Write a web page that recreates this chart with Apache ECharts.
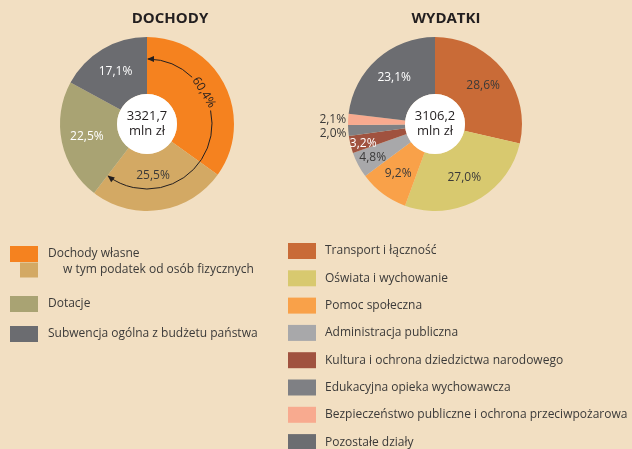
<!DOCTYPE html>
<html>
<head>
<meta charset="utf-8">
<title>Dochody i wydatki</title>
<script src="https://cdn.jsdelivr.net/npm/echarts@6/dist/echarts.min.js"></script>
<style>
  html, body { margin: 0; padding: 0; background: #f2dfc2; }
  #main { width: 632px; height: 449px; }
</style>
</head>
<body>
<div id="main"></div>
<script>
// DOCHODY - shares in %
const incomeNames = [
  'Dochody własne',
  'w tym podatek od osób fizycznych',
  'Dotacje',
  'Subwencja ogólna z budżetu państwa'
]
const incomeValues = [34.9, 25.5, 22.5, 17.1]
const incomeTotal = '3321,7'

// WYDATKI - shares in %
const expenseNames = [
  'Transport i łączność',
  'Oświata i wychowanie',
  'Pomoc społeczna',
  'Administracja publiczna',
  'Kultura i ochrona dziedzictwa narodowego',
  'Edukacyjna opieka wychowawcza',
  'Bezpieczeństwo publiczne i ochrona przeciwpożarowa',
  'Pozostałe działy'
]
const expenseValues = [28.6, 27.0, 9.2, 4.8, 3.2, 2.0, 2.1, 23.1]
const expenseTotal = '3106,2'
const unit = 'mln zł'

// styles
const FONT = 'Open Sans'
const DARK = '#3b3a39'
const incomeColors = ['#f5821f', '#d3a964', '#a9a373', '#6b6c70']
const incomeLabelColors = [null, DARK, '#fff', '#fff']
const expenseColors = ['#c96b37', '#d8c96f', '#f9a149', '#a8a8aa', '#a0523f', '#7f8084', '#f8aa8f', '#6c6d71']
const expenseLabelColors = [DARK, DARK, DARK, DARK, '#fff', DARK, DARK, '#fff']
const outsideLabels = [5, 6]
// small nudges of inside labels (px)
const incomeLabelShift = { 1: [-3, -9] }
const expenseLabelShift = { 3: [-8, 5], 4: [-12, 5] }

const C1 = [147, 124]
const C2 = [435, 124]
const R = 87
const R0 = 30
const ARC_R = 65

const pct = v => v.toFixed(1).replace('.', ',') + '%'

const chart = echarts.init(document.getElementById('main'))

const incomeData = incomeNames.map((name, i) => ({
  name,
  value: incomeValues[i],
  itemStyle: { color: incomeColors[i] },
  label: incomeLabelColors[i] ? { color: incomeLabelColors[i] } : { show: false }
}))

const expenseData = expenseNames.map((name, i) => {
  const outside = outsideLabels.includes(i)
  return {
    name,
    value: expenseValues[i],
    itemStyle: { color: expenseColors[i] },
    label: outside ? { position: 'outside', color: DARK } : { color: expenseLabelColors[i] },
    labelLine: { show: false, length: 2, length2: 0 }
  }
})

const shiftLayout = shifts => params => {
  const s = shifts[params.dataIndex]
  return s ? { dx: s[0], dy: s[1] } : {}
}

// arc with arrows for own revenue (orange + tan)
const incomeSum = incomeValues.reduce((a, b) => a + b, 0)
const ownShare = (incomeValues[0] + incomeValues[1]) / incomeSum
const ownDeg = ownShare * 360
const toRad = d => (d - 90) * Math.PI / 180
const pointAt = d => [C1[0] + ARC_R * Math.cos(toRad(d)), C1[1] + ARC_R * Math.sin(toRad(d))]

const arrowHead = (d, dir) => {
  const t = toRad(d)
  const p = pointAt(d)
  // dir 1 = clockwise travel, -1 = counterclockwise
  const ux = -Math.sin(t) * dir
  const uy = Math.cos(t) * dir
  const bx = p[0] - ux * 7
  const by = p[1] - uy * 7
  return {
    type: 'polygon',
    z: 10,
    shape: { points: [p, [bx - uy * 3, by + ux * 3], [bx + uy * 3, by - ux * 3]] },
    style: { fill: '#231f20' },
    silent: true
  }
}

const arcSeg = (a, b) => ({
  type: 'arc',
  z: 10,
  shape: { cx: C1[0], cy: C1[1], r: ARC_R, startAngle: toRad(a), endAngle: toRad(b), clockwise: true },
  style: { stroke: '#231f20', fill: null, lineWidth: 1 },
  silent: true
})

const textDeg = 61
const textPos = pointAt(textDeg)

const centerDisc = (c, total) => [
  { type: 'circle', shape: { cx: c[0], cy: c[1], r: R0 }, style: { fill: '#fff' }, silent: true, z: 10 },
  {
    type: 'text', x: c[0], y: c[1], z: 11, silent: true,
    style: {
      text: total + '\n' + unit, align: 'center', verticalAlign: 'middle',
      font: '13px "' + FONT + '"', lineHeight: 15, fill: '#231f20'
    }
  }
]

const legendText = { fontFamily: FONT, fontSize: 12, color: DARK, lineHeight: 16 }

chart.setOption({
  backgroundColor: '#f2dfc2',
  animation: false,
  textStyle: { fontFamily: FONT },
  title: [
    { text: 'DOCHODY', left: 165, top: 6, textAlign: 'center', textStyle: { fontFamily: FONT, fontSize: 15, fontWeight: 'bold', color: '#231f20' } },
    { text: 'WYDATKI', left: 441, top: 6, textAlign: 'center', textStyle: { fontFamily: FONT, fontSize: 15, fontWeight: 'bold', color: '#231f20' } }
  ],
  legend: [
    {
      data: [incomeNames[0]], left: 10, top: 246, padding: 0, orient: 'vertical',
      icon: 'rect', itemWidth: 28, itemHeight: 16, selectedMode: false,
      textStyle: Object.assign({}, legendText, { padding: [0, 0, 0, 5] })
    },
    {
      data: [incomeNames[1]], left: 20, top: 262, padding: 0, orient: 'vertical',
      icon: 'rect', itemWidth: 18, itemHeight: 15, selectedMode: false,
      textStyle: Object.assign({}, legendText, { padding: [0, 0, 0, 20] })
    },
    {
      data: [incomeNames[2], incomeNames[3]], left: 10, top: 296, padding: 0, orient: 'vertical',
      icon: 'rect', itemWidth: 28, itemHeight: 16, itemGap: 14, selectedMode: false,
      textStyle: Object.assign({}, legendText, { padding: [0, 0, 0, 5] })
    },
    {
      data: expenseNames, left: 288, top: 243, height: 260, padding: 0, orient: 'vertical',
      icon: 'rect', itemWidth: 28, itemHeight: 16, itemGap: 11.3, selectedMode: false,
      textStyle: Object.assign({}, legendText, { padding: [0, 0, 0, 4] })
    }
  ],
  series: [
    {
      name: 'Dochody',
      type: 'pie',
      center: C1,
      radius: [R0, R],
      startAngle: 90,
      silent: true,
      label: { position: 'inside', formatter: p => pct(p.value), fontFamily: FONT, fontSize: 12 },
      labelLine: { show: false },
      labelLayout: shiftLayout(incomeLabelShift),
      data: incomeData
    },
    {
      name: 'Wydatki',
      type: 'pie',
      center: C2,
      radius: [R0, R],
      startAngle: 90,
      silent: true,
      label: { position: 'inside', formatter: p => pct(p.value), fontFamily: FONT, fontSize: 12 },
      labelLine: { show: false },
      labelLayout: shiftLayout(expenseLabelShift),
      data: expenseData
    }
  ],
  graphic: [
    ...centerDisc(C1, incomeTotal),
    ...centerDisc(C2, expenseTotal),
    arcSeg(1, 44),
    arcSeg(78, ownDeg - 1),
    arrowHead(0, -1),
    arrowHead(ownDeg, 1),
    {
      type: 'text', x: textPos[0], y: textPos[1], rotation: -(textDeg - 3) * Math.PI / 180, silent: true, z: 10,
      style: { text: pct(ownShare * 100), align: 'center', verticalAlign: 'middle', font: '12px "' + FONT + '"', fill: '#231f20' }
    }
  ]
})
</script>
</body>
</html>
